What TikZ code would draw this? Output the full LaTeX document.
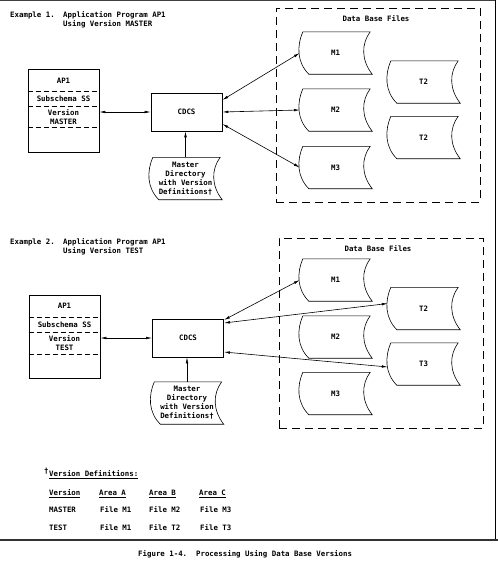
\documentclass[tikz,border=0pt]{standalone}
\usepackage{fontspec}
\usetikzlibrary{arrows.meta, calc, positioning}
\newfontfamily\cdcfont{DejaVu Sans Mono}
\newcommand{\cdc}{\cdcfont\bfseries\fontsize{7.4}{9}\selectfont}

\tikzset{
  lbl/.style={inner sep=0pt, text height=5.4pt, text depth=0pt},
  progbox/.style={draw, thick, inner sep=0pt, minimum width=71pt, minimum height=83pt},
  cdcsbox/.style={draw, thick, inner sep=0pt, minimum width=71pt, minimum height=38pt},
  dbfile/.style={inner sep=0pt, minimum width=71pt, minimum height=42pt},
  dbgroup/.style={draw, semithick, dash pattern=on 8pt off 5pt, inner sep=0pt},
  sublines/.style={semithick, dash pattern=on 5pt off 3pt},
  link/.style={<->, semithick}
}

% outline of a stored data file, drawn round a named node
\newcommand{\fileoutline}[1]{%
  \draw[semithick] ($(#1.north west)+(3,0)$) -- ($(#1.north east)+(-1,0)$)
    .. controls ($(#1.north east)+(-10,12)$) and ($(#1.south east)+(-10,-14)$) .. ($(#1.south east)+(1,0)$)
    -- ($(#1.south west)+(9,0)$)
    .. controls ($(#1.south west)+(-3,-12)$) and ($(#1.north west)+(-3,14)$) .. ($(#1.north west)+(3,0)$);
}

\begin{document}
\begin{tikzpicture}[x=1pt, y=-1pt, >={Latex[length=6pt,width=2.6pt]}, every node/.style={font=\cdc}]
\useasboundingbox (0,0) rectangle (498,565);

% page frame
\draw[line width=1.2pt, black!75] (0,0.8) -- (495,0.8);
\draw[line width=0.8pt] (495,0) -- (495,540);
\draw[line width=1.2pt, black!80] (0,540) -- (498,540);

% Example 1
\node[lbl, anchor=west] (ex1) at (10,15) {Example 1.};
\node[lbl, anchor=west] (ex1a) at (63,15) {Application Program AP1};
\node[lbl, anchor=west] (ex1b) at (63,23.5) {Using Version MASTER};

\node[progbox] (ap1a) at (63.5,110.5) {};
\foreach \d in {23,38,59}
  \draw[sublines] ($(ap1a.north west)+(0,\d)$) -- ($(ap1a.north east)+(0,\d)$);
\node[lbl] (ap1a-name) at ($(ap1a.north)+(0,12)$) {AP1};
\node[lbl] (ap1a-sub) at ($(ap1a.north)+(0,30)$) {Subschema SS};
\node[lbl] (ap1a-ver) at ($(ap1a.north)+(0,44)$) {Version};
\node[lbl] (ap1a-val) at ($(ap1a.north)+(0,53)$) {MASTER};

\node[cdcsbox] (cdcs1) at (186.5,112) {CDCS};
\node[dbfile, align=center] (mdir1) at (185.5,178.5) {Master\\Directory\\with Version\\Definitions†};

\node[dbgroup, minimum width=204pt, minimum height=194pt] (dbf1) at (378,105) {};
\node[lbl] (dbf1-title) at (376,19) {Data Base Files};
\node[dbfile] (m1a) at (335.5,53) {M1};
\node[dbfile] (m2a) at (335.5,110) {M2};
\node[dbfile] (m3a) at (335.5,167.5) {M3};
\node[dbfile] (t2a) at (423.5,82) {T2};
\node[dbfile] (t2b) at (423.5,137.5) {T2};

\draw[link] (cdcs1.west -| ap1a.east) -- (cdcs1.west);
\draw[->] (mdir1.north) -- (mdir1.north |- cdcs1.south);
\draw[link] ($(cdcs1.east)+(0,-12)$) -- (m1a.west);
\draw[link] (cdcs1.east) -- (m2a.west);
\draw[link] ($(cdcs1.east)+(0,12)$) -- (m3a.west);

% Example 2
\node[lbl, anchor=west] (ex2) at (10,242) {Example 2.};
\node[lbl, anchor=west] (ex2a) at (63,242) {Application Program AP1};
\node[lbl, anchor=west] (ex2b) at (63,250.5) {Using Version TEST};

\node[progbox] (ap1b) at (64.5,336.5) {};
\foreach \d in {23,38,60}
  \draw[sublines] ($(ap1b.north west)+(0,\d)$) -- ($(ap1b.north east)+(0,\d)$);
\node[lbl] (ap1b-name) at ($(ap1b.north)+(0,11.5)$) {AP1};
\node[lbl] (ap1b-sub) at ($(ap1b.north)+(0,30.5)$) {Subschema SS};
\node[lbl] (ap1b-ver) at ($(ap1b.north)+(0,44.5)$) {Version};
\node[lbl] (ap1b-val) at ($(ap1b.north)+(0,53.5)$) {TEST};

\node[cdcsbox] (cdcs2) at (188,338) {CDCS};
\node[dbfile, align=center] (mdir2) at (187,403) {Master\\Directory\\with Version\\Definitions†};

\node[dbgroup, minimum width=204pt, minimum height=190pt] (dbf2) at (381,333) {};
\node[lbl] (dbf2-title) at (378,249) {Data Base Files};
\node[dbfile] (m1b) at (335.5,280) {M1};
\node[dbfile] (m2b) at (335.5,337) {M2};
\node[dbfile] (m3b) at (335.5,393.5) {M3};
\node[dbfile] (t2c) at (423.5,308.5) {T2};
\node[dbfile] (t3c) at (423.5,364) {T3};

\draw[link] (cdcs2.west -| ap1b.east) -- (cdcs2.west);
\draw[->] (mdir2.north) -- (mdir2.north |- cdcs2.south);
\draw[link] ($(cdcs2.east)+(0,-18)$) -- (m1b.west);
\draw[link] ($(cdcs2.east)+(0,-15)$) -- ($(t2c.west)+(0,-5)$);
\draw[link] ($(cdcs2.east)+(0,14)$) -- ($(t3c.west)+(0,3)$);

% file outlines
\foreach \f in {m1a,m2a,m3a,t2a,t2b,mdir1,m1b,m2b,m3b,t2c,t3c,mdir2}
  \fileoutline{\f};

% footnote table
\node[lbl, anchor=west] (dag) at (44,471) {†};
\node[lbl, anchor=west] (vdef) at (49,474) {\underline{Version Definitions:}};
\node[lbl, anchor=west] (h1) at (49,493) {\underline{Version}};
\node[lbl, anchor=west] (h2) at (99,493) {\underline{Area A}};
\node[lbl, anchor=west] (h3) at (149,493) {\underline{Area B}};
\node[lbl, anchor=west] (h4) at (199,493) {\underline{Area C}};
\node[lbl, anchor=west] (r1) at (49,510) {MASTER};
\node[lbl, anchor=west] (r1a) at (100,510) {File M1};
\node[lbl, anchor=west] (r1b) at (149,510) {File M2};
\node[lbl, anchor=west] (r1c) at (200,510) {File M3};
\node[lbl, anchor=west] (r2) at (49,528) {TEST};
\node[lbl, anchor=west] (r2a) at (100,528) {File M1};
\node[lbl, anchor=west] (r2b) at (149,528) {File T2};
\node[lbl, anchor=west] (r2c) at (200,528) {File T3};

% caption
\node[lbl, anchor=west] (cap) at (138,554) {Figure 1-4.~~Processing Using Data Base Versions};
\end{tikzpicture}
\end{document}
